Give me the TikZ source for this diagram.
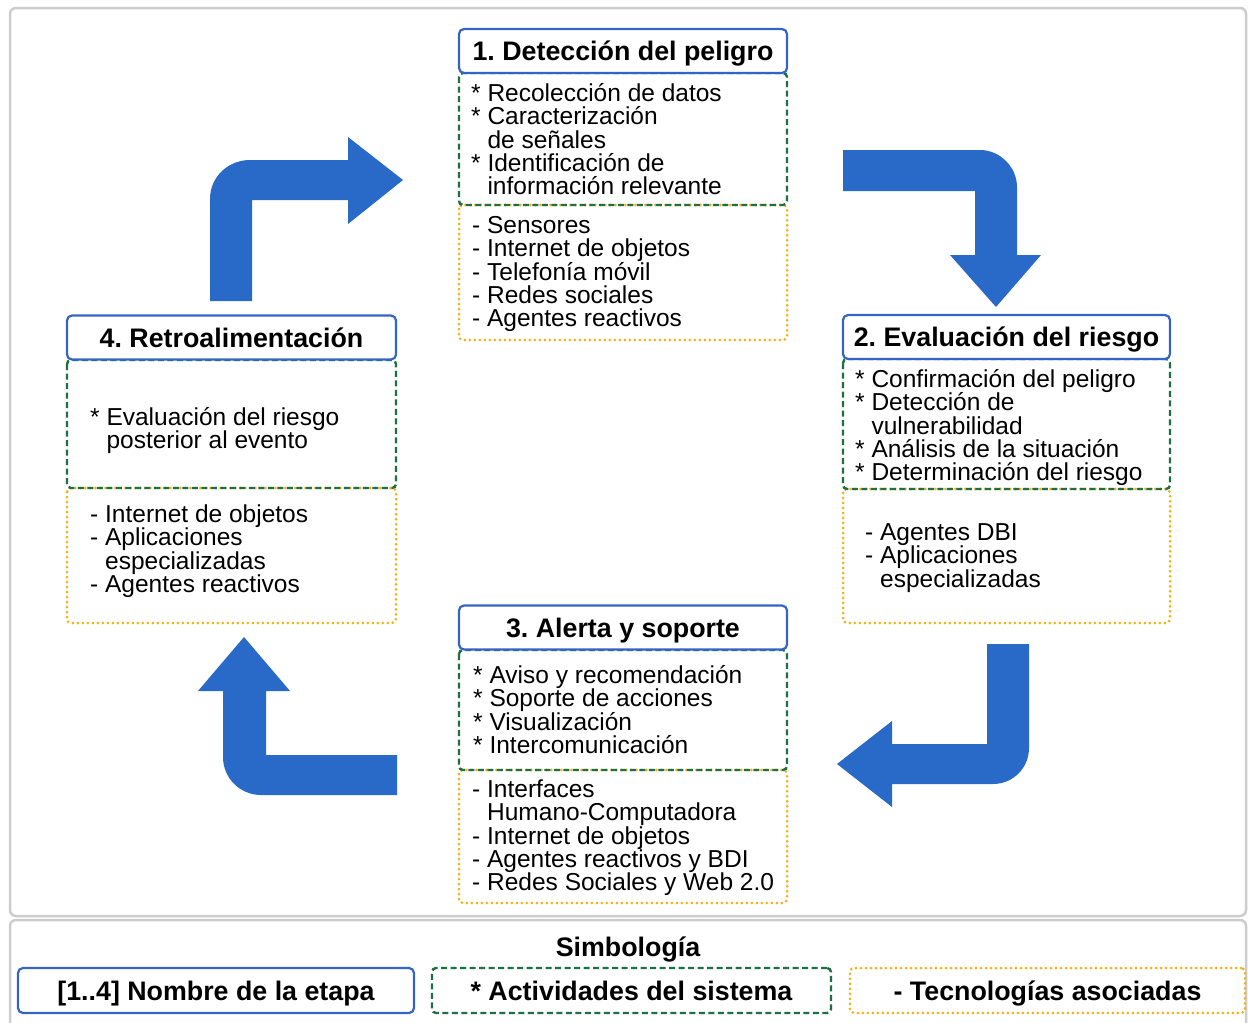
\documentclass[tikz,border=0pt]{standalone}
\usepackage{fontspec}
\setmainfont{Liberation Sans}
\setlength{\lineskiplimit}{-100pt}
\frenchspacing
\definecolor{framegray}{RGB}{205,205,205}
\definecolor{titleblue}{RGB}{52,101,197}
\definecolor{actgreen}{RGB}{30,110,70}
\definecolor{techyellow}{RGB}{242,178,20}
\definecolor{arrowblue}{RGB}{41,105,200}
\newcommand\myBodyFont{\fontsize{24.5pt}{23.4pt}\selectfont}
\newcommand\myTitleFont{\fontsize{26.8pt}{30pt}\selectfont\bfseries}
\newcommand\myFL{\rule{0pt}{22pt}}
\tikzset{
  frame/.style={draw=framegray, line width=2.5pt, rounded corners=6pt},
  titlebox/.style={draw=titleblue, line width=2.2pt, rounded corners=5pt, fill=white,
    minimum width=328pt, minimum height=44pt, inner sep=0pt, font=\myTitleFont,
    text height=19pt, text depth=0pt},
  actbox/.style={draw=actgreen, line width=2.4pt, dash pattern=on 6pt off 3.5pt, rounded corners=4pt},
  techbox/.style={draw=techyellow, line width=3pt, dash pattern=on 0pt off 5pt, line cap=round, rounded corners=4pt},
  legendtext/.style={inner sep=0pt, font=\myTitleFont, text height=19pt, text depth=0pt,
    minimum height=45pt},
  body/.style={anchor=north west, inner sep=0pt, align=left, font=\myBodyFont},
  bigarrow/.style={fill=arrowblue, draw=none},
}
\begin{document}
\begin{tikzpicture}[x=1pt,y=-1pt]
\useasboundingbox (0,0) rectangle (1248,1023);
\clip (0,0) rectangle (1248,1023);
\fill[white] (0,0) rectangle (1248,1023);
\draw[frame] (10,8) rectangle (1246,916);
\draw[frame] (10,920) rectangle (1246,1040);

% block arrows
\fill[bigarrow] (210,301) -- (210,199) .. controls (210,177) and (228,160) .. (250,160)
  -- (348,160) -- (348,137) -- (403,180) -- (348,224) -- (348,200) -- (252,200) -- (252,301) -- cycle;
\fill[bigarrow] (843,150) -- (980,150) .. controls (1000,150) and (1017,167) .. (1017,187)
  -- (1017,255) -- (1041,255) -- (996,307) -- (950,255) -- (975,255) -- (975,191) -- (843,191) -- cycle;
\fill[bigarrow] (987,644) -- (1029,644) -- (1029,748) .. controls (1029,768) and (1013,784) .. (993,784)
  -- (892,784) -- (892,807) -- (837,764) -- (892,721) -- (892,744) -- (987,744) -- cycle;
\fill[bigarrow] (397,755) -- (266,755) -- (266,691) -- (290,691) -- (244,637) -- (198,691) -- (223,691)
  -- (223,757) .. controls (223,778) and (240,795) .. (261,795) -- (397,795) -- cycle;

% stage 1
\draw[techbox] (459,205) rectangle (787,340);
\draw[actbox] (459,73) rectangle (787,205);
\node[titlebox] (h1) at (623,51) {1. Detección del peligro};
\node[body] (a1) at (471,79) {\myFL* Recolección de datos\\* Caracterización\\\hphantom{* }de señales\\* Identificación de\\\hphantom{* }información relevante};
\node[body] (k1) at (472,211) {\myFL- Sensores\\- Internet de objetos\\- Telefonía móvil\\- Redes sociales\\- Agentes reactivos};

% stage 2
\draw[techbox] (843,489) rectangle (1170,623);
\draw[actbox] (843,359) rectangle (1170,489);
\node[titlebox, minimum width=327pt] (h2) at (1006.5,337) {2. Evaluación del riesgo};
\node[body] (a2) at (855,365) {\myFL* Confirmación del peligro\\* Detección de\\\hphantom{* }vulnerabilidad\\* Análisis de la situación\\* Determinación del riesgo};
\node[body] (k2) at (865,518) {\myFL- Agentes DBI\\- Aplicaciones\\\hphantom{- }especializadas};

% stage 4
\draw[techbox] (67,488) rectangle (396,623);
\draw[actbox] (67,360) rectangle (396,488);
\node[titlebox, minimum width=329pt] (h4) at (231.5,337.5) {4. Retroalimentación};
\node[body] (a4) at (90,403) {\myFL* Evaluación del riesgo\\\hphantom{* }posterior al evento};
\node[body] (k4) at (90,500) {\myFL- Internet de objetos\\- Aplicaciones\\\hphantom{- }especializadas\\- Agentes reactivos};

% stage 3
\draw[techbox] (459,770) rectangle (787,903);
\draw[actbox] (459,650) rectangle (787,770);
\node[titlebox] (h3) at (623,627.5) {3. Alerta y soporte};
\node[body] (a3) at (473,661) {\myFL* Aviso y recomendación\\* Soporte de acciones\\* Visualización\\* Intercomunicación};
\node[body] (k3) at (472,775) {\myFL- Interfaces\\\hphantom{- }Humano-Computadora\\- Internet de objetos\\- Agentes reactivos y BDI\\- Redes Sociales y Web 2.0};

% legend
\node[font=\myTitleFont, anchor=base, inner sep=0pt] (simb) at (628,956) {Simbología};
\node[titlebox, minimum width=396pt, minimum height=45pt] (lg1) at (216,990.5) {[1..4] Nombre de la etapa};
\node[legendtext, actbox, minimum width=399pt] (lg2) at (631.5,990.5) {* Actividades del sistema};
\node[legendtext, techbox, minimum width=395pt] (lg3) at (1047.5,990.5) {- Tecnologías asociadas};
\end{tikzpicture}
\end{document}
